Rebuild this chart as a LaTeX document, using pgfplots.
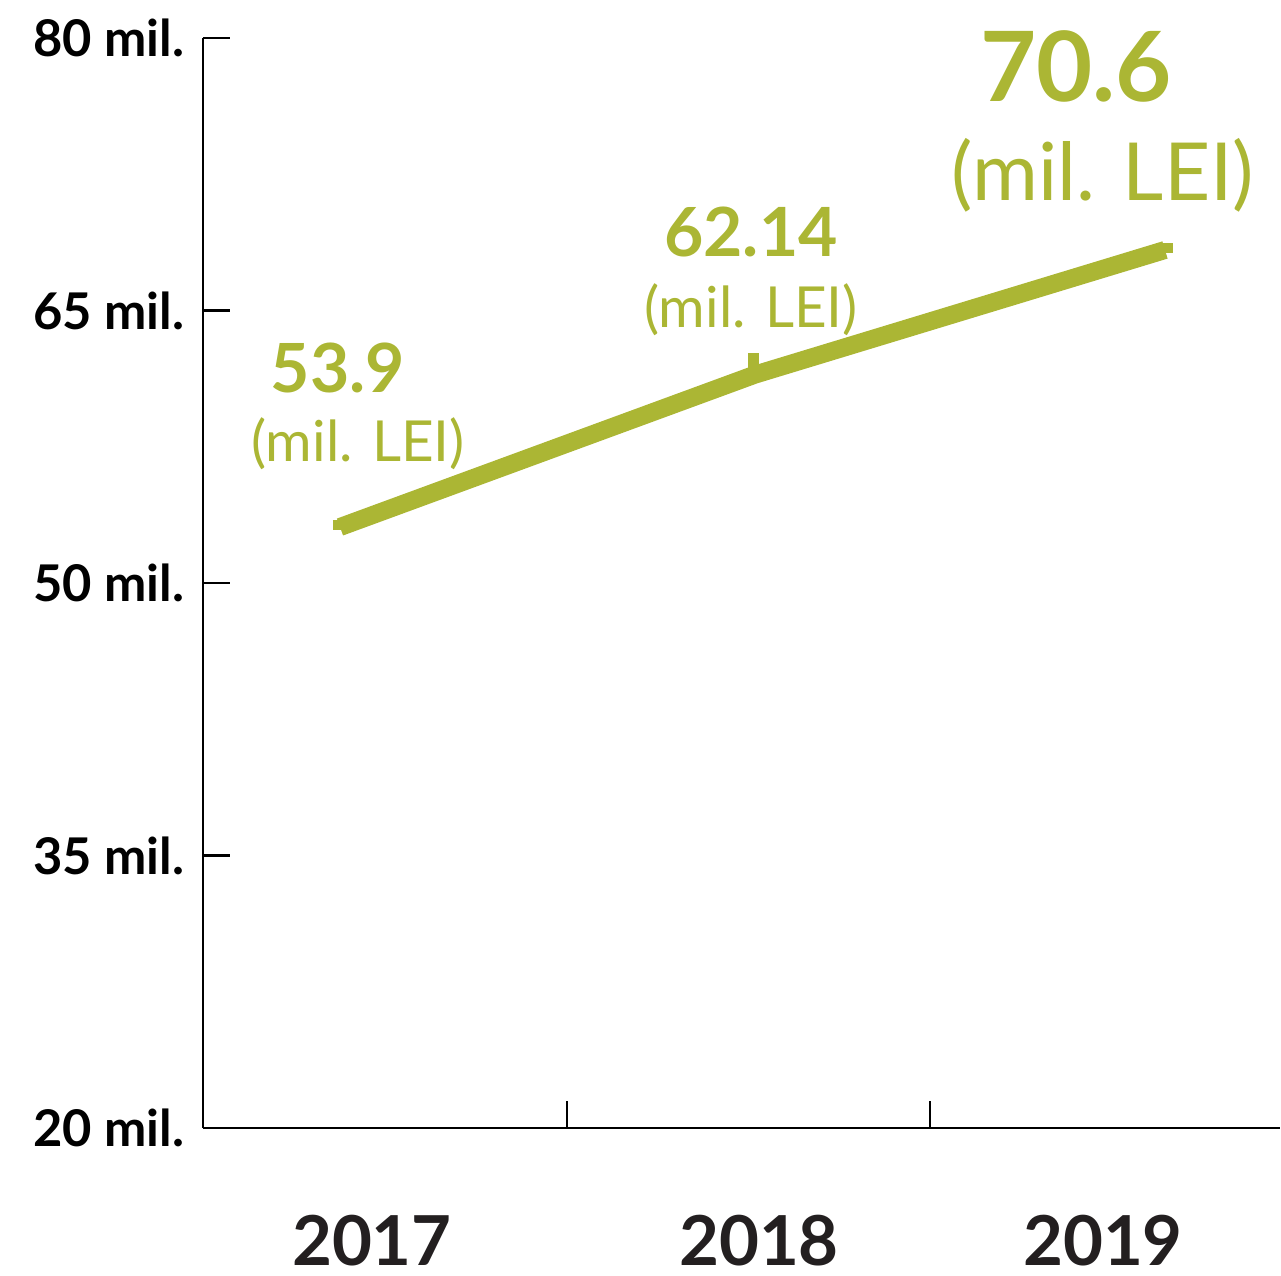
\documentclass[border=0pt]{standalone}
\usepackage{fontspec}
\setmainfont{Lato}
\usepackage{pgfplots}
\pgfplotsset{compat=1.18}
\definecolor{lime}{RGB}{171,182,52}
\definecolor{dark}{RGB}{35,31,32}
\begin{document}
\begin{tikzpicture}
\path[use as bounding box] (0mm,0mm) rectangle (128.1mm,127.6mm);
\begin{axis}[
  at={(20.3mm,14.8mm)}, anchor=south west,
  scale only axis, width=107.7mm, height=109mm,
  xmin=0, xmax=1077, ymin=20, ymax=80,
  axis lines=left,
  axis line style={line width=0.27mm, black, -},
  clip=false,
  xtick={364,727}, xticklabels={},
  ytick={20,35,50,65,80},
  yticklabels={20 mil.,35 mil.,50 mil.,65 mil.,80 mil.},
  tick align=inside,
  major tick length=2.7mm,
  tick style={line width=0.27mm, black},
  yticklabel style={font=\fontsize{14.4}{17}\selectfont\bfseries, inner sep=0pt, xshift=-1.8mm, text=black},
]
\addplot[lime, line width=1.8mm] coordinates {(137,53.08) (552,61.47) (962,68.33)};
\addplot[lime, line width=1mm] coordinates {(130,53.2) (140,53.2)};
\addplot[lime, line width=1.1mm] coordinates {(550,62.65) (550,61.5)};
\addplot[lime, line width=1mm] coordinates {(955,68.44) (970,68.44)};

\node[anchor=base, text=lime, font=\fontsize{19.3}{23}\selectfont\bfseries] at (axis cs:135,60.51) {53.9};
\node[anchor=base, text=lime, font=\fontsize{16.1}{19}\selectfont] at (axis cs:155,56.66) {(mil. LEI)};
\node[anchor=base, text=lime, font=\fontsize{19.3}{23}\selectfont\bfseries] at (axis cs:548,67.95) {62.14};
\node[anchor=base, text=lime, font=\fontsize{16.1}{19}\selectfont] at (axis cs:548,64.09) {(mil. LEI)};
\node[anchor=base, text=lime, font=\fontsize{27.6}{33}\selectfont\bfseries] at (axis cs:873,76.53) {70.6};
\node[anchor=base, text=lime, font=\fontsize{22.8}{27}\selectfont] at (axis cs:900,71.08) {(mil. LEI)};

\node[anchor=base, text=dark, font=\fontsize{19.6}{23}\selectfont\bfseries, yshift=-13.8mm] at (axis cs:169,20) {2017};
\node[anchor=base, text=dark, font=\fontsize{19.6}{23}\selectfont\bfseries, yshift=-13.8mm] at (axis cs:556,20) {2018};
\node[anchor=base, text=dark, font=\fontsize{19.6}{23}\selectfont\bfseries, yshift=-13.8mm] at (axis cs:900,20) {2019};
\end{axis}
\end{tikzpicture}
\end{document}
